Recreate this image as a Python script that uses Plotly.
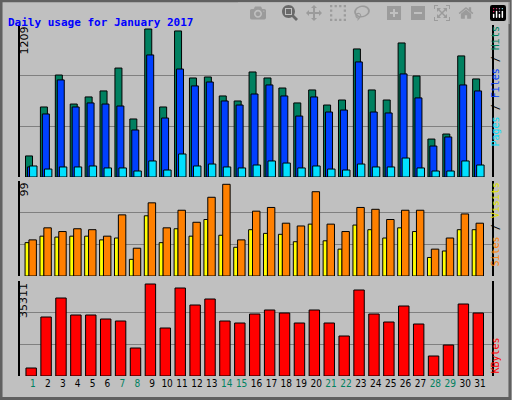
import plotly.graph_objects as go

days = list(range(1, 32))
weekend = [1, 7, 8, 14, 15, 21, 22, 28, 29]

hits = [172, 572, 833, 596, 654, 703, 890, 474, 1209, 572, 1193, 809, 817, 662, 621, 858,
        809, 727, 605, 711, 588, 629, 1046, 711, 629, 1095, 825, 310, 351, 989, 801]
files = [82, 515, 793, 572, 605, 596, 580, 384, 997, 482, 882, 744, 776, 621, 588, 678,
         752, 662, 498, 654, 531, 547, 940, 531, 523, 842, 646, 253, 327, 752, 703]
pages = [90, 65, 82, 82, 90, 74, 74, 49, 131, 57, 188, 90, 106, 82, 74, 98,
         131, 114, 74, 90, 65, 57, 106, 82, 82, 155, 74, 49, 49, 131, 98]
sites = [36, 43, 42, 43, 43, 39, 41, 18, 65, 36, 51, 43, 61, 44, 31, 50,
         46, 45, 37, 56, 38, 29, 55, 50, 41, 52, 48, 20, 27, 50, 50]
visits = [39, 52, 48, 51, 50, 43, 66, 30, 79, 52, 71, 58, 85, 99, 39, 70,
          74, 57, 54, 91, 56, 48, 74, 72, 61, 71, 71, 29, 41, 67, 57]
kbytes = [3070, 22645, 29937, 23413, 23413, 21877, 21110, 10747, 35311, 18423, 33775, 27250,
          29553, 21110, 20342, 23797, 25332, 24180, 20342, 25332, 20342, 15353, 33007, 23797,
          20726, 26867, 19958, 7676, 11898, 27635, 24180]

fig = go.Figure()
line = dict(color="black", width=1)

def bar(y, color, off, w, ax):
    fig.add_trace(go.Bar(x=days, y=y, marker=dict(color=color, line=line),
                         offset=off, width=w, xaxis="x", yaxis=ax, showlegend=False))

bar(hits, "#008060", -0.5, 0.47, "y")
bar(files, "#0040ff", -0.37, 0.47, "y")
bar(pages, "#00e0ff", -0.23, 0.5, "y")
bar(sites, "#ffff00", -0.53, 0.27, "y2")
bar(visits, "#ff8000", -0.27, 0.5, "y2")
bar(kbytes, "#ff0000", -0.47, 0.7, "y3")

def yax(top, dom):
    return dict(domain=dom, range=[0, top], tickvals=[top / 3, 2 * top / 3], showticklabels=False,
                showgrid=True, gridcolor="#808080", gridwidth=1, zeroline=False,
                showline=True, linecolor="black", mirror=True, linewidth=2, anchor="x")

top1 = 1209 * 152 / 148
top2 = 99 * 95 / 91.7
top3 = 35311 * 95 / 92

ticktext = [f'<span style="color:{"#00805f" if d in weekend else "black"}">{d}</span>' for d in days]

fig.update_layout(
    width=512, height=400, margin=dict(l=0, r=0, t=0, b=0),
    paper_bgcolor="#c0c0c0", plot_bgcolor="#c0c0c0", barmode="overlay",
    font=dict(family="DejaVu Sans", size=11, color="black"),
    xaxis=dict(domain=[20 / 512, 492 / 512], range=[0.13, 31.8], tickvals=days, ticktext=ticktext,
               ticks="", showgrid=False, zeroline=False, anchor="y3", automargin=False,
               tickfont=dict(size=10, family="DejaVu Sans Condensed")),
    yaxis=yax(top1, [0.5575, 0.9375]),
    yaxis2=yax(top2, [0.31, 0.5475]),
    yaxis3=yax(top3, [0.06, 0.2975]),
)

ann = [
    dict(x=6 / 512, y=1 - 14 / 400, text="<b>Daily usage for January 2017</b>", xanchor="left",
         font=dict(family="DejaVu Sans Mono", size=11, color="#0000ff")),
    dict(x=15 / 512, y=0.9375, text="1209", textangle=-90, yanchor="top"),
    dict(x=15 / 512, y=0.5475, text="99", textangle=-90, yanchor="top"),
    dict(x=15 / 512, y=0.2975, text="35311", textangle=-90, yanchor="top"),
    dict(x=502 / 512, y=0.9375, yanchor="top", textangle=-90,
         font=dict(family="DejaVu Sans Mono", size=10),
         text='<span style="color:#00e0ff">Pages</span> / <span style="color:#0040ff">Files</span>'
              ' / <span style="color:#008060">Hits</span>'),
    dict(x=502 / 512, y=0.5475, yanchor="top", textangle=-90,
         font=dict(family="DejaVu Sans Mono", size=10),
         text='<span style="color:#ff8000">Sites</span> / <span style="color:#e0e000">Visits</span>'),
    dict(x=502 / 512, y=0.06, yanchor="bottom", textangle=-90,
         font=dict(family="DejaVu Sans Mono", size=10, color="#ff0000"), text="KBytes"),
]
for a in ann:
    a.setdefault("xref", "paper")
    a.setdefault("yref", "paper")
    a["showarrow"] = False
fig.update_layout(annotations=ann)

fig.add_shape(type="rect", xref="paper", yref="paper", x0=0.002, y0=0.004, x1=0.996, y1=0.998,
              line=dict(color="#606060", width=3), fillcolor="rgba(0,0,0,0)")

fig.write_html("out.html", post_script="document.body.style.margin='0';")
